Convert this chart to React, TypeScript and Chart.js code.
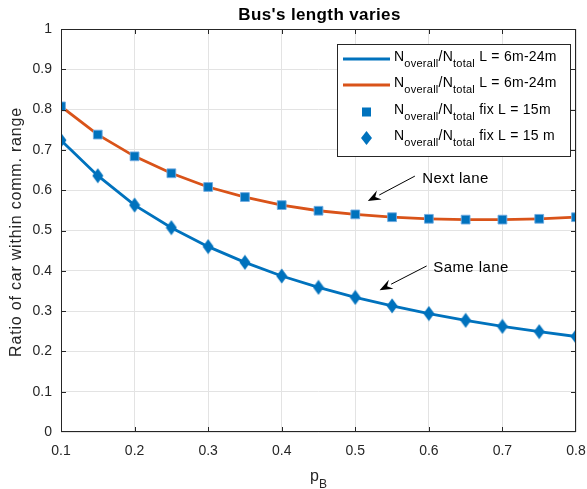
import React, { useEffect, useRef } from "react";
import { Chart, registerables } from "chart.js";

Chart.register(...registerables);

const pB = [0.1, 0.15, 0.2, 0.25, 0.3, 0.35, 0.4, 0.45, 0.5, 0.55, 0.6, 0.65, 0.7, 0.75, 0.8];
const nextLane = [0.808, 0.738, 0.684, 0.642, 0.608, 0.583, 0.563, 0.549, 0.540, 0.533, 0.529, 0.527, 0.527, 0.529, 0.533];
const sameLane = [0.724, 0.636, 0.563, 0.507, 0.460, 0.421, 0.387, 0.359, 0.334, 0.313, 0.294, 0.277, 0.262, 0.249, 0.237];

const xTicks = [0.1, 0.2, 0.3, 0.4, 0.5, 0.6, 0.7, 0.8];
const yTicks = [0, 0.1, 0.2, 0.3, 0.4, 0.5, 0.6, 0.7, 0.8, 0.9, 1];

const titleText = "Bus's length varies";
const yTitle = "Ratio of car within comm. range";
const legendLabels = [" L = 6m-24m", " L = 6m-24m", " fix L = 15m", " fix L = 15 m"];
// annotations: text, text pos, arrow tail, arrow tip (data coords)
const annotations = [
  { text: "Next lane", tx: 0.591, ty: 0.628, x0: 0.581, y0: 0.635, x1: 0.517, y1: 0.573, w: 66 },
  { text: "Same lane", tx: 0.606, ty: 0.407, x0: 0.597, y0: 0.412, x1: 0.533, y1: 0.352, w: 75 },
];

const BLUE = "#0072BD";
const ORANGE = "#D95319";
const AXIS = "#262626";
const FONT = "'Liberation Sans', Arial, Helvetica, sans-serif";

function fitText(ctx: any, text: string, x: number, y: number, target: number) {
  ctx.letterSpacing = "0px";
  const w = ctx.measureText(text).width;
  const n = Math.max(1, text.length - 1);
  const ls = Math.max(0, (target - w) / n);
  ctx.letterSpacing = ls.toFixed(2) + "px";
  ctx.fillText(text, x, y);
  ctx.letterSpacing = "0px";
}

function drawNText(ctx: any, x: number, y: number, rest: string) {
  ctx.textBaseline = "alphabetic";
  ctx.textAlign = "left";
  const big = `14px ${FONT}`;
  const small = `11px ${FONT}`;
  ctx.letterSpacing = "0.25px";
  let cx = x;
  const parts: [string, string, number][] = [
    ["N", big, 2],
    ["overall", small, 8],
    ["/N", big, 2],
    ["total", small, 8],
    [rest, big, 2],
  ];
  for (const [t, f, dy] of parts) {
    ctx.font = f;
    ctx.fillText(t, cx, y + dy);
    cx += ctx.measureText(t).width;
  }
  ctx.letterSpacing = "0px";
}

function makeDiamond(): HTMLCanvasElement {
  const c = document.createElement("canvas");
  c.width = 12;
  c.height = 16;
  const g = c.getContext("2d")!;
  g.fillStyle = BLUE;
  g.beginPath();
  g.moveTo(6, 0.5);
  g.lineTo(11.5, 8);
  g.lineTo(6, 15.5);
  g.lineTo(0.5, 8);
  g.closePath();
  g.fill();
  return c;
}

const decorPlugin = {
  id: "decor",
  afterDraw(chart: any) {
    const ctx: any = chart.ctx;
    const { left, right, top, bottom } = chart.chartArea;
    const xs = chart.scales.x;
    const ys = chart.scales.y;
    ctx.save();
    // axes box
    ctx.strokeStyle = AXIS;
    ctx.lineWidth = 1;
    ctx.strokeRect(left + 0.5, top + 0.5, right - left - 1, bottom - top - 1);
    // inner ticks
    const tl = 5;
    ctx.beginPath();
    for (const v of xTicks.slice(1, -1)) {
      const px = Math.round(xs.getPixelForValue(v)) + 0.5;
      ctx.moveTo(px, bottom);
      ctx.lineTo(px, bottom - tl);
      ctx.moveTo(px, top);
      ctx.lineTo(px, top + tl);
    }
    for (const v of yTicks.slice(1, -1)) {
      const py = Math.round(ys.getPixelForValue(v)) + 0.5;
      ctx.moveTo(left, py);
      ctx.lineTo(left + tl, py);
      ctx.moveTo(right, py);
      ctx.lineTo(right - tl, py);
    }
    ctx.stroke();

    // title
    ctx.fillStyle = "#000";
    ctx.font = `bold 17px ${FONT}`;
    ctx.textAlign = "center";
    ctx.textBaseline = "middle";
    fitText(ctx, titleText, (left + right) / 2 + 1, 15, 162);

    // axis titles
    ctx.fillStyle = AXIS;
    ctx.font = `16px ${FONT}`;
    ctx.save();
    ctx.translate(17, 232);
    ctx.rotate(-Math.PI / 2);
    ctx.textAlign = "center";
    fitText(ctx, yTitle, 0, 0, 249);
    ctx.restore();
    ctx.textBaseline = "alphabetic";
    ctx.font = `16px ${FONT}`;
    ctx.textAlign = "right";
    ctx.fillText("p", 319, 481);
    ctx.textAlign = "left";
    ctx.font = `12px ${FONT}`;
    ctx.fillText("B", 319, 488);

    // annotations
    ctx.fillStyle = "#000";
    ctx.strokeStyle = "#000";
    for (const a of annotations) {
      const x0 = xs.getPixelForValue(a.x0), y0 = ys.getPixelForValue(a.y0);
      const x1 = xs.getPixelForValue(a.x1), y1 = ys.getPixelForValue(a.y1);
      const ang = Math.atan2(y1 - y0, x1 - x0);
      const hl = 13, hw = 5;
      const bx = x1 - hl * Math.cos(ang), by = y1 - hl * Math.sin(ang);
      ctx.lineWidth = 1;
      ctx.beginPath();
      ctx.moveTo(x0, y0);
      ctx.lineTo(bx, by);
      ctx.stroke();
      ctx.beginPath();
      ctx.moveTo(x1, y1);
      ctx.lineTo(bx + hw * Math.sin(ang), by - hw * Math.cos(ang));
      ctx.lineTo(bx + 0.35 * hl * Math.cos(ang), by + 0.35 * hl * Math.sin(ang));
      ctx.lineTo(bx - hw * Math.sin(ang), by + hw * Math.cos(ang));
      ctx.closePath();
      ctx.fill();
      ctx.font = `15px ${FONT}`;
      ctx.textAlign = "left";
      ctx.textBaseline = "middle";
      fitText(ctx, a.text, xs.getPixelForValue(a.tx), ys.getPixelForValue(a.ty), a.w);
    }

    // legend
    const lx = 337, ly = 44, lw = 233, lh = 112;
    ctx.fillStyle = "#fff";
    ctx.fillRect(lx, ly, lw, lh);
    ctx.strokeStyle = AXIS;
    ctx.lineWidth = 1;
    ctx.strokeRect(lx + 0.5, ly + 0.5, lw, lh);
    const rows = [59, 85, 112, 138];
    rows.forEach((ry, i) => {
      if (i < 2) {
        ctx.strokeStyle = i === 0 ? BLUE : ORANGE;
        ctx.lineWidth = 2.8;
        ctx.beginPath();
        ctx.moveTo(343, ry);
        ctx.lineTo(390, ry);
        ctx.stroke();
      } else if (i === 2) {
        ctx.fillStyle = BLUE;
        ctx.fillRect(362, ry - 4.5, 9, 9);
      } else {
        ctx.fillStyle = BLUE;
        ctx.beginPath();
        ctx.moveTo(366.5, ry - 7);
        ctx.lineTo(372, ry);
        ctx.lineTo(366.5, ry + 7);
        ctx.lineTo(361, ry);
        ctx.closePath();
        ctx.fill();
      }
      ctx.fillStyle = "#000";
      drawNText(ctx, 394, ry, legendLabels[i]);
    });
    ctx.restore();
  },
};

export default function App() {
  const ref = useRef<HTMLCanvasElement | null>(null);
  useEffect(() => {
    document.body.style.margin = "0";
    const canvas = ref.current!;
    const pts = (arr: number[]) => pB.map((x, i) => ({ x, y: arr[i] }));
    const diamond = makeDiamond();
    const chart = new Chart(canvas, {
      type: "scatter",
      data: {
        datasets: [
          { label: "blue", data: pts(sameLane), showLine: true, borderColor: BLUE, borderWidth: 2.8, pointRadius: 0, order: 3 },
          { label: "orange", data: pts(nextLane), showLine: true, borderColor: ORANGE, borderWidth: 2.8, pointRadius: 0, order: 2 },
          { label: "sq", data: pts(nextLane), showLine: false, pointStyle: "rect", pointRadius: 6.2, backgroundColor: BLUE, borderColor: "rgba(110,170,225,0.9)", borderWidth: 1, order: 1 },
          { label: "dia", data: pts(sameLane), showLine: false, pointStyle: diamond, pointRadius: 7, order: 0 },
        ],
      },
      options: {
        responsive: false,
        animation: false,
        devicePixelRatio: 1,
        layout: { padding: { top: 29, right: 11, left: 0, bottom: 0 } },
        plugins: { legend: { display: false }, title: { display: false }, tooltip: { enabled: false } },
        scales: {
          x: {
            type: "linear",
            min: 0.1,
            max: 0.8,
            afterFit: (s: any) => { s.height = 57; s.paddingLeft = 0; s.paddingRight = 0; },
            afterBuildTicks: (s: any) => { s.ticks = xTicks.map((v) => ({ value: v })); },
            ticks: { padding: 11, color: AXIS, font: { family: FONT, size: 14 }, callback: (v: any) => Number(v).toFixed(1), maxRotation: 0 },
            grid: { color: "#e3e3e3", drawTicks: false, lineWidth: 1 },
            border: { display: false },
          },
          y: {
            type: "linear",
            min: 0,
            max: 1,
            afterFit: (s: any) => { s.width = 61; s.paddingTop = 0; s.paddingBottom = 0; },
            afterBuildTicks: (s: any) => { s.ticks = yTicks.map((v) => ({ value: v })); },
            ticks: { padding: 9, color: AXIS, font: { family: FONT, size: 14 }, callback: (v: any) => String(Math.round(Number(v) * 10) / 10) },
            grid: { color: "#e3e3e3", drawTicks: false, lineWidth: 1 },
            border: { display: false },
          },
        },
      },
      plugins: [decorPlugin],
    } as any);
    return () => chart.destroy();
  }, []);
  return <canvas ref={ref} width={587} height={489} style={{ display: "block" }} />;
}
